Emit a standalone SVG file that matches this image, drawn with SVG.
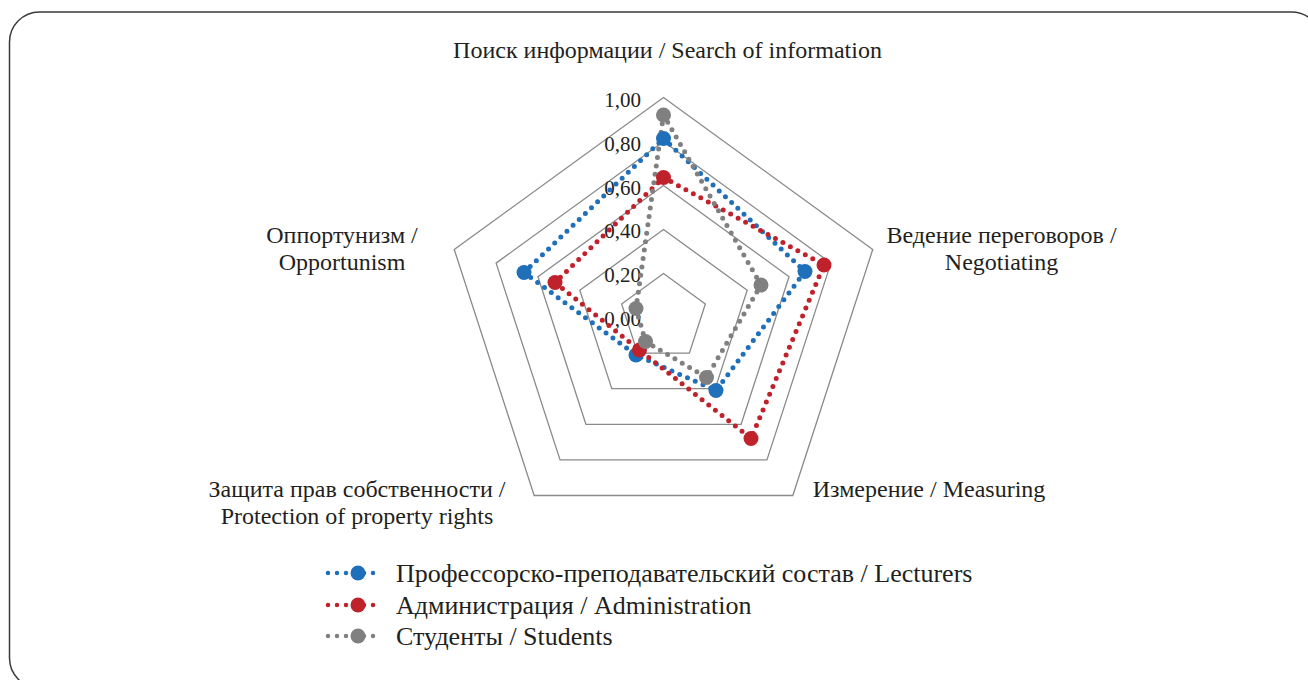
<svg xmlns="http://www.w3.org/2000/svg" width="1308" height="680" viewBox="0 0 1308 680">
  <style>
    .grid { fill: none; stroke: #8a8a8a; stroke-width: 1.3; }
    .lbl { font-family: "Liberation Serif", "DejaVu Serif", "Times New Roman", serif; font-size: 24px; fill: #231f20; text-anchor: middle; }
    .tick { font-family: "Liberation Serif", "DejaVu Serif", "Times New Roman", serif; font-size: 21px; fill: #231f20; text-anchor: end; }
    .leg { font-family: "Liberation Serif", "DejaVu Serif", "Times New Roman", serif; font-size: 26px; fill: #231f20; }
    .ser { fill: none; stroke-width: 5; stroke-linecap: round; stroke-dasharray: 0 8.5; stroke-linejoin: round; }
    .legline { fill: none; stroke-width: 4.5; stroke-linecap: round; stroke-dasharray: 0 9; }
    .blue { stroke: #1f6fba; }
    .red { stroke: #c0222b; }
    .grey { stroke: #808080; }
    .bf { fill: #1f6fba; }
    .rf { fill: #c0222b; }
    .gf { fill: #808080; }
  </style>
  <rect x="9.5" y="12" width="1312" height="676" rx="30" ry="30" fill="#ffffff" stroke="#3a3a3a" stroke-width="1.5"/>

  <g id="grid">
    <polygon class="grid" points="663.5,273.5 705.35,303.9 689.36,353.1 637.64,353.1 621.65,303.9"/>
    <polygon class="grid" points="663.5,229.5 747.2,290.3 715.2,388.7 611.8,388.7 579.8,290.3"/>
    <polygon class="grid" points="663.5,185.5 789.05,276.7 741.09,424.3 585.91,424.3 537.95,276.7"/>
    <polygon class="grid" points="663.5,141.5 830.9,263.1 766.95,459.9 560.05,459.9 496.1,263.1"/>
    <polygon class="grid" points="663.5,97.5 872.74,249.5 792.82,495.5 534.18,495.5 454.26,249.5"/>
  </g>

  <g id="tick-labels">
    <text class="tick" x="641" y="107">1,00</text>
    <text class="tick" x="641" y="151">0,80</text>
    <text class="tick" x="641" y="195">0,60</text>
    <text class="tick" x="641" y="238">0,40</text>
    <text class="tick" x="641" y="282">0,20</text>
    <text class="tick" x="641" y="326">0,00</text>
  </g>

  <g id="connectors">
    <polygon class="ser blue" points="663.5,138.5 805,271.5 716,390.5 636,355 524,272.5"/>
    <polygon class="ser red" points="663.5,177.5 824,265 751,438.5 639.5,350 555,282.5"/>
    <polygon class="ser grey" points="663.5,115 761,285 706.5,377.5 645.5,341.5 636,308.5"/>
  </g>

  <g id="series-lecturers">
    <circle class="bf" cx="663.5" cy="138.5" r="7.5"/>
    <circle class="bf" cx="805" cy="271.5" r="7.5"/>
    <circle class="bf" cx="716" cy="390.5" r="7.5"/>
    <circle class="bf" cx="636" cy="355" r="7.5"/>
    <circle class="bf" cx="524" cy="272.5" r="7.5"/>
  </g>
  <g id="series-administration">
    <circle class="rf" cx="663.5" cy="177.5" r="7.5"/>
    <circle class="rf" cx="824" cy="265" r="7.5"/>
    <circle class="rf" cx="751" cy="438.5" r="7.5"/>
    <circle class="rf" cx="639.5" cy="350" r="7.5"/>
    <circle class="rf" cx="555" cy="282.5" r="7.5"/>
  </g>
  <g id="series-students">
    <circle class="gf" cx="663.5" cy="115" r="7.5"/>
    <circle class="gf" cx="761" cy="285" r="7.5"/>
    <circle class="gf" cx="706.5" cy="377.5" r="7.5"/>
    <circle class="gf" cx="645.5" cy="341.5" r="7.5"/>
    <circle class="gf" cx="636" cy="308.5" r="7.5"/>
  </g>

  <g id="axis-search">
    <text class="lbl" x="667.5" y="58">Поиск информации / Search of information</text>
  </g>
  <g id="axis-negotiating">
    <text class="lbl" x="1001.5" y="243">Ведение переговоров /</text>
    <text class="lbl" x="1001.5" y="270">Negotiating</text>
  </g>
  <g id="axis-measuring">
    <text class="lbl" x="929" y="497">Измерение / Measuring</text>
  </g>
  <g id="axis-protection">
    <text class="lbl" x="357" y="497">Защита прав собственности /</text>
    <text class="lbl" x="357" y="524">Protection of property rights</text>
  </g>
  <g id="axis-opportunism">
    <text class="lbl" x="342" y="243">Оппортунизм /</text>
    <text class="lbl" x="342" y="270">Opportunism</text>
  </g>

  <g id="legend">
    <g id="legend-lecturers">
      <line class="legline blue" x1="328" y1="573" x2="382" y2="573"/>
      <circle class="bf" cx="358" cy="573" r="7.5"/>
      <text class="leg" x="396" y="582">Профессорско-преподавательский состав / Lecturers</text>
    </g>
    <g id="legend-administration">
      <line class="legline red" x1="328" y1="605" x2="382" y2="605"/>
      <circle class="rf" cx="358" cy="605" r="7.5"/>
      <text class="leg" x="396" y="614">Администрация / Administration</text>
    </g>
    <g id="legend-students">
      <line class="legline grey" x1="328" y1="636" x2="382" y2="636"/>
      <circle class="gf" cx="358" cy="636" r="7.5"/>
      <text class="leg" x="396" y="645">Студенты / Students</text>
    </g>
  </g>
</svg>
